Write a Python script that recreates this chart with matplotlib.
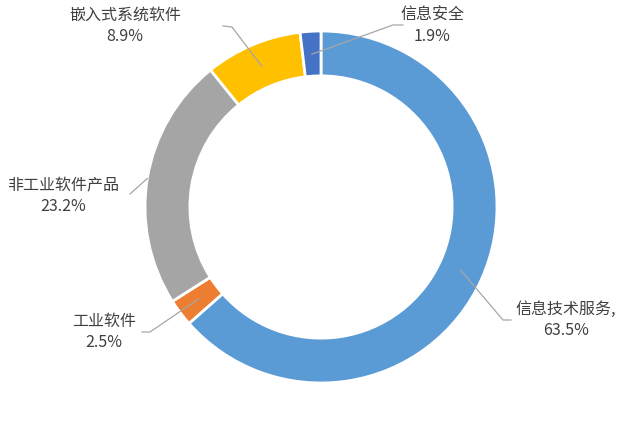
import matplotlib
matplotlib.use("Agg")
import matplotlib.pyplot as plt
import numpy as np

plt.rcParams["font.family"] = ["Noto Sans CJK SC", "DejaVu Sans"]

# ── Data ─────────────────────────────────────────────────────────────
categories = ["信息技术服务,", "工业软件", "非工业软件产品", "嵌入式系统软件", "信息安全"]
shares = [63.5, 2.5, 23.2, 8.9, 1.9]
colors = ["#5B9BD5", "#ED7D31", "#A5A5A5", "#FFC000", "#4472C4"]

# label placement in pixel space (x, y from top): text centre, elbow, line end
text_px = [(566, 320), (104, 332), (63, 196), (125, 26), (432, 26)]
elbow_px = [(503, 320), (150, 332), None, (232, 27), (393, 25)]
end_px = [(511, 320), (142, 332), (130, 194), (223, 26), (403, 25)]
anchor_r = [0.87, 0.87, 1.0, 0.87, 0.87]

W, H = 640, 422
fig = plt.figure(figsize=(W / 100, H / 100), dpi=100)
cx, cy, R = 321, 207, 176
ax = fig.add_axes([(cx - R) / W, (H - cy - R) / H, 2 * R / W, 2 * R / H])


def px2data(p):
    return ((p[0] - cx) / R, (cy - p[1]) / R)


wedges, _ = ax.pie(shares, colors=colors, startangle=90, counterclock=False,
                   radius=1.0, wedgeprops=dict(width=0.255, edgecolor="white", linewidth=2))
ax.set_xlim(-1, 1)
ax.set_ylim(-1, 1)
ax.set_aspect("equal")
ax.axis("off")

LINE = "#A6A6A6"
for w, name, val, tp, ep, endp, ar in zip(wedges, categories, shares, text_px,
                                          elbow_px, end_px, anchor_r):
    ang = np.deg2rad((w.theta1 + w.theta2) / 2)
    xs, ys = [ar * np.cos(ang)], [ar * np.sin(ang)]
    for p in (ep, endp):
        if p is not None:
            dx, dy = px2data(p)
            xs.append(dx); ys.append(dy)
    ax.plot(xs, ys, color=LINE, lw=0.9, clip_on=False, zorder=5)
    tx, ty = px2data(tp)
    ax.text(tx, ty, f"{name}\n{val:.1f}%", ha="center", va="center",
            fontsize=11.5, color="#404040", linespacing=1.3, clip_on=False)

fig.savefig("out.png", dpi=100)
